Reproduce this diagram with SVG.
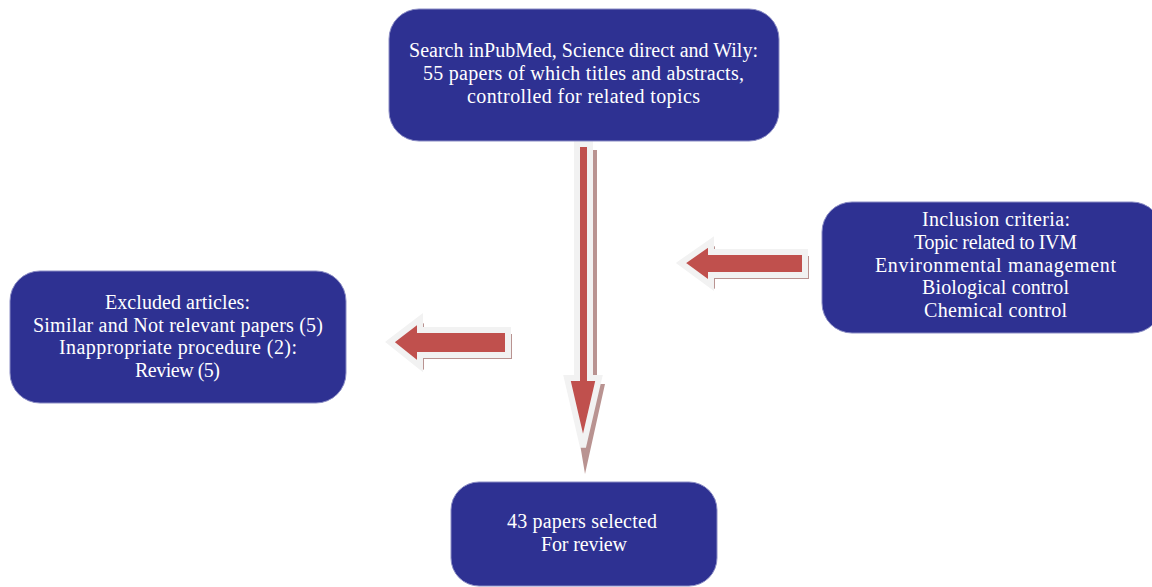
<svg xmlns="http://www.w3.org/2000/svg" width="1152" height="587" viewBox="0 0 1152 587">
<style>
.box{fill:#2E3192;stroke:#8a8cc4;stroke-width:1}
.t{font-family:"Liberation Serif","DejaVu Serif",serif;font-size:20px;fill:#ffffff}
.arr{fill:#C0504D;stroke:#F2F2F2;stroke-width:6;stroke-linejoin:miter}
.sh{fill:#B99391}
</style>
<rect width="1152" height="587" fill="#ffffff"/>
<g id="connectors">
<g id="arrow-down">
<polygon class="sh" points="582,150 597,150 597,384 605,384 585,474 570,384 582,384"/>
<polygon class="arr" points="577,144 590,144 590,378 599,378 583,447 567,378 577,378"/>
</g>
<g id="arrow-right-in">
<polygon class="sh" points="685,267 715,246 715,256 809,256 809,279 715,279 715,289"/>
<polygon class="arr" points="681,263 711,242 711,252 805,252 805,275 711,275 711,285"/>
</g>
<g id="arrow-left-out">
<polygon class="sh" points="394,346 424,323 424,334 512,334 512,359 424,359 424,370"/>
<polygon class="arr" points="390,342 420,319 420,330 508,330 508,355 420,355 420,366"/>
</g>
</g>
<g id="node-search">
<rect class="box" x="389" y="9" width="390" height="132" rx="30"/>
<text class="t" x="409" y="57" textLength="349">Search inPubMed, Science direct and Wily:</text>
<text class="t" x="423" y="80" textLength="321">55 papers of which titles and abstracts,</text>
<text class="t" x="467" y="103" textLength="233">controlled for related topics</text>
</g>
<g id="node-excluded">
<rect class="box" x="10" y="271" width="336" height="132" rx="30"/>
<text class="t" x="105" y="309" textLength="145">Excluded articles:</text>
<text class="t" x="33" y="332" textLength="290">Similar and Not relevant papers (5)</text>
<text class="t" x="59" y="354" textLength="238">Inappropriate procedure (2):</text>
<text class="t" x="135" y="377" textLength="85">Review (5)</text>
</g>
<g id="node-inclusion">
<rect class="box" x="822" y="202" width="340" height="131" rx="30"/>
<text class="t" x="922" y="226" textLength="148">Inclusion criteria:</text>
<text class="t" x="914" y="249" textLength="163">Topic related to IVM</text>
<text class="t" x="875" y="272" textLength="241">Environmental management</text>
<text class="t" x="922" y="294" textLength="147">Biological control</text>
<text class="t" x="924" y="317" textLength="143">Chemical control</text>
</g>
<g id="node-selected">
<rect class="box" x="451" y="482" width="266" height="104" rx="28"/>
<text class="t" x="507" y="528" textLength="150">43 papers selected</text>
<text class="t" x="541" y="551" textLength="86">For review</text>
</g>
</svg>
